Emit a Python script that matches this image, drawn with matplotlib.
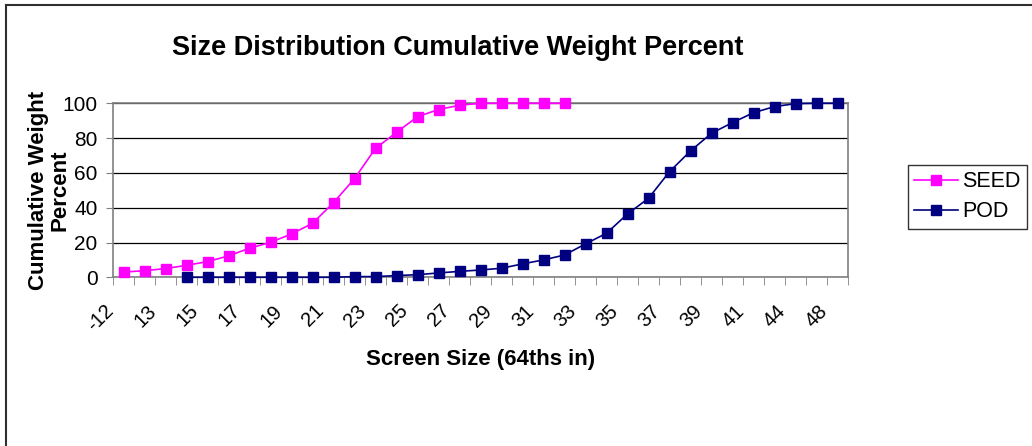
import matplotlib
matplotlib.use("Agg")
import matplotlib.pyplot as plt
from matplotlib.lines import Line2D
from matplotlib.transforms import ScaledTranslation, blended_transform_factory
import numpy as np

plt.rcParams["font.family"] = ["Liberation Sans", "DejaVu Sans"]

# categorias do eixo x (64ths in)
sizes = ["-12", "12", "13", "14", "15", "16", "17", "18", "19", "20", "21", "22",
         "23", "24", "25", "26", "27", "28", "29", "30", "31", "32", "33", "34",
         "35", "36", "37", "38", "39", "40", "41", "42", "44", "46", "48"]

# SEED: categorias 0..21
seed_start = 0
seed = [3.0, 3.8, 5.0, 6.9, 9.0, 12.3, 16.7, 20.1, 24.9, 31.0, 42.9, 56.7,
        74.1, 83.3, 92.3, 96.4, 98.9, 100, 100, 100, 100, 100]

# POD: categorias 3..34
pod_start = 3
pod = [0, 0, 0, 0, 0, 0, 0, 0, 0.4, 0.4, 1.0, 1.5, 2.5, 3.4, 4.2, 5.2, 7.7,
       10.0, 12.8, 19.2, 25.3, 36.4, 45.4, 60.7, 72.6, 82.8, 88.9, 94.6, 98.1,
       99.8, 100, 100]

W, H = 1032, 446
fig = plt.figure(figsize=(W / 100, H / 100), dpi=100)
ax = fig.add_axes([113 / W, 1 - 277.3 / H, 735 / W, 174 / H])

x_seed = np.arange(seed_start, seed_start + len(seed))
x_pod = np.arange(pod_start, pod_start + len(pod))

ax.plot(x_seed, seed, color="#FF00FF", lw=1.2, marker="s", ms=7.2,
        mec="#FF00FF", label="SEED", clip_on=False, zorder=3)
ax.plot(x_pod, pod, color="#000080", lw=1.2, marker="s", ms=7.2,
        mec="#000080", label="POD", clip_on=False, zorder=4)

ax.set_xlim(-0.5, len(sizes) - 0.5)
ax.set_ylim(0, 100)

# eixo y
ax.set_yticks(np.arange(0, 101, 20))
ax.tick_params(axis="y", labelsize=15, length=5, color="#808080", pad=6)
ax.yaxis.grid(True, color="black", lw=0.9)
ax.set_axisbelow(True)

# eixo x: marcas nas fronteiras, rótulos a cada duas categorias (texto deslocado como no Excel)
ax.set_xticks(np.arange(-0.5, len(sizes)), minor=True)
ax.set_xticks([])
ax.tick_params(axis="x", which="minor", length=6, color="#808080")
lbl_tr = blended_transform_factory(ax.transData, ax.transAxes) + \
    ScaledTranslation(-12.5 / 100, -30.5 / 100, fig.dpi_scale_trans)
for i in range(0, len(sizes), 2):
    ax.text(i, 0, sizes[i], transform=lbl_tr, rotation=45, rotation_mode="anchor",
            ha="right", va="center", fontsize=14.5)

for s in ax.spines.values():
    s.set_color("#808080")
    s.set_linewidth(1.2)

fig.text(481 / W, 1 - 360 / H, "Screen Size (64ths in)", ha="center", va="center",
         fontsize=16, fontweight="bold")
# rótulo do eixo y em duas linhas (textos separados)
fig.text(39 / W, 1 - 190 / H, "Cumulative Weight", ha="center", va="center",
         rotation=90, fontsize=16, fontweight="bold")
fig.text(60 / W, 1 - 190 / H, "Percent", ha="center", va="center",
         rotation=90, fontsize=16, fontweight="bold")
fig.text(458 / W, 1 - 48 / H, "Size Distribution Cumulative Weight Percent",
         ha="center", va="center", fontsize=19.5, fontweight="bold")

leg = ax.legend(loc="upper left", bbox_to_anchor=(908 / W, 1 - 165 / H),
                bbox_transform=fig.transFigure, fontsize=15.5,
                frameon=True, fancybox=False, handlelength=2.0, borderpad=0.3,
                labelspacing=0.4, handletextpad=0.2, borderaxespad=0)
leg.get_frame().set_edgecolor("black")
leg.get_frame().set_linewidth(1.0)

# moldura externa (só topo e esquerda visíveis)
fig.add_artist(Line2D([6 / W, 1], [1 - 5 / H, 1 - 5 / H], transform=fig.transFigure,
                      color="#303030", lw=1.5))
fig.add_artist(Line2D([6 / W, 6 / W], [0, 1 - 5 / H], transform=fig.transFigure,
                      color="#303030", lw=1.5))

fig.savefig("out.png", dpi=100)
